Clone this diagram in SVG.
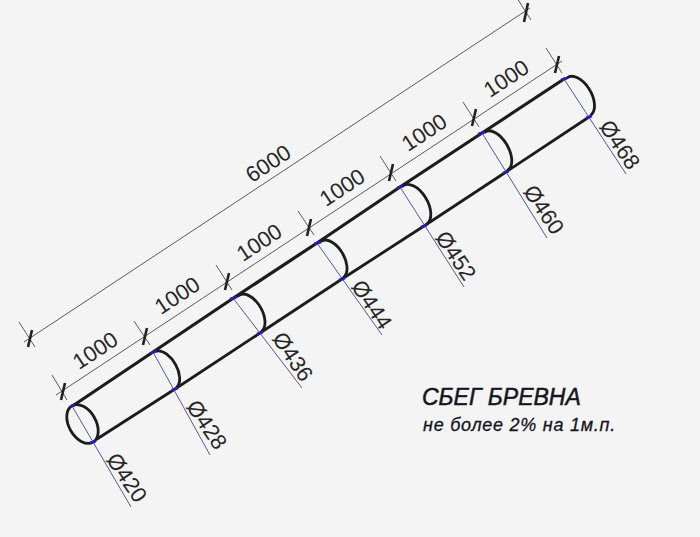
<svg xmlns="http://www.w3.org/2000/svg" width="700" height="537" viewBox="0 0 700 537">
<style>
.t{font-family:"Liberation Sans",Arial,sans-serif;fill:#262626;font-size:22px;text-anchor:middle}
.h{font-family:"Liberation Sans",Arial,sans-serif;fill:#15151f;stroke:#15151f;font-style:italic;text-anchor:start}
.log{stroke:#1c1c1c;fill:none;stroke-linecap:round}
.thin{stroke:#333;stroke-width:.8;fill:none}
.tick{stroke:#222;stroke-width:2.6;fill:none}
.lead{stroke:#55559f;stroke-width:1;fill:none}
.blue{stroke:#1f1fc0;stroke-width:2.4;fill:none}
</style>
<rect width="700" height="537" fill="#f4f4f4"/>
<g id="connectors">
<path class="log" stroke-width="3.2" d="M74 405L153 352L235 297L317 243L400 187L482 133L564 79"/>
<path class="log" stroke-width="2.8" d="M97 439L175 389L260 333L342 279L424 226L506 172L589 117"/>
<path class="thin" d="M24 342L530 8"/>
<path class="thin" d="M56 395L562 61"/>
<path class="thin" d="M19 322L35 347M52 375L67 400M134 321L150 345M216 265L232 290M298 211L314 235M380 156L396 181M463 102L479 127M546 48L562 73M515 -5L531 20"/>
<path class="tick" d="M61 400L65 383M143 345L147 328M225 290L229 273M307 236L311 219M389 181L393 164M472 126L476 109M555 73L559 56M28 347L32 330M524 22L528 3"/>
</g>
<g id="section-420">
<ellipse class="log" stroke-width="2.800" cx="82.500" cy="424" rx="21" ry="13.500" transform="rotate(60 82.500 424)"/>
<path class="lead" d="M72 406L131 507"/><path class="blue" d="M70 407L75 405M90 443L96 441"/>
<text class="t" transform="translate(125.500 478.500) rotate(56)" y="6">Ø420</text>
</g>
<g id="section-428">
<path class="log" stroke-width="2.800" d="M157 351A21 12 60 0 1 177 387"/>
<path class="lead" d="M153 352L210 455"/><path class="blue" d="M151 353L157 351M172 390L178 388"/>
<text class="t" transform="translate(205.500 425.500) rotate(56)" y="6">Ø428</text>
</g>
<g id="section-436">
<path class="log" stroke-width="2.800" d="M238 296A21 12 60 0 1 262 331"/>
<path class="lead" d="M233 298L302 388"/><path class="blue" d="M230 299L237 297M257 334L263 332"/>
<text class="t" transform="translate(291.500 357.500) rotate(56)" y="6">Ø436</text>
</g>
<g id="section-444">
<path class="log" stroke-width="2.800" d="M320 242A21 12 60 0 1 344 277"/>
<path class="lead" d="M317 243L382 335"/><path class="blue" d="M314 244L321 242M339 280L345 278"/>
<text class="t" transform="translate(370.500 305.500) rotate(56)" y="6">Ø444</text>
</g>
<g id="section-452">
<path class="log" stroke-width="2.800" d="M403 186A21 12 60 0 1 427 224"/>
<path class="lead" d="M400 187L464 287"/><path class="blue" d="M397 188L403 186M421 227L427 225"/>
<text class="t" transform="translate(454.500 256.500) rotate(56)" y="6">Ø452</text>
</g>
<g id="section-460">
<path class="log" stroke-width="2.800" d="M485 132A22 12 60 0 1 508 170"/>
<path class="lead" d="M482 133L547 238"/><path class="blue" d="M478 134L485 132M503 173L509 171"/>
<text class="t" transform="translate(542.500 210.500) rotate(56)" y="6">Ø460</text>
</g>
<g id="section-468">
<path class="log" stroke-width="2.800" d="M567 78A22 12.500 60 0 1 591 115"/>
<path class="lead" d="M564 79L626 174"/><path class="blue" d="M561 80L567 78M586 118L592 116"/>
<text class="t" transform="translate(618.500 145.500) rotate(56)" y="6">Ø468</text>
</g>
<g id="dimensions">
<text class="t" transform="translate(95 350) rotate(-33.500)" y="8">1000</text>
<text class="t" transform="translate(177 295) rotate(-33.500)" y="8">1000</text>
<text class="t" transform="translate(259 242) rotate(-33.500)" y="8">1000</text>
<text class="t" transform="translate(342 187) rotate(-33.500)" y="8">1000</text>
<text class="t" transform="translate(424 132) rotate(-33.500)" y="8">1000</text>
<text class="t" transform="translate(506 78) rotate(-33.500)" y="8">1000</text>
<text class="t" transform="translate(268 163) rotate(-33.500)" y="8">6000</text>
</g>
<g id="note">
<text class="h" x="422" y="405" font-size="23" stroke-width=".5">СБЕГ БРЕВНА</text>
<text class="h" x="423" y="431" font-size="18" letter-spacing=".75" stroke-width=".3">не более 2% на 1м.п.</text>
</g>
</svg>
